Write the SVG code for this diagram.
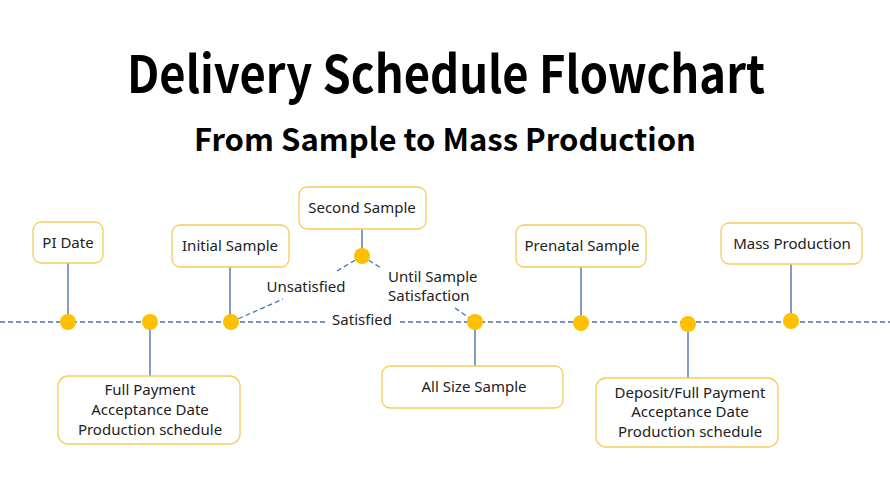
<svg xmlns="http://www.w3.org/2000/svg" width="890" height="500" viewBox="0 0 890 500">
<style>
.box{fill:#ffffff;stroke:#F5CB5C;stroke-width:1.3}
.lbl{font-family:"Noto Sans","Liberation Sans",sans-serif;font-size:15px;fill:#222;text-anchor:middle}
.start{text-anchor:start}
.stem{stroke:#5B7DB8;stroke-width:1.5;fill:none}
.dash{stroke:#4A70B0;stroke-width:1.3;stroke-dasharray:5 3;fill:none}
.dot{fill:#FFC000}
.title{font-family:"Noto Sans CJK SC","Noto Sans",sans-serif;font-weight:bold;fill:#000;text-anchor:middle}
</style>
<rect width="890" height="500" fill="#ffffff"/>
<text class="title" x="446" y="93" font-size="51" textLength="638" lengthAdjust="spacingAndGlyphs">Delivery Schedule Flowchart</text>
<text class="title" x="445" y="151" font-size="31" textLength="502" lengthAdjust="spacingAndGlyphs">From Sample to Mass Production</text>
<g id="connectors">
<path class="dash" d="M0 322 H325 M400 322 H890"/>
<path class="dash" d="M231 322 L283 299 M337 271 L362 256"/>
<path class="dash" d="M362 256 L381 268 M455 308 L475 322"/>
<path class="stem" d="M68 263 V322 M150 322 V376 M230 267 V322 M362 229 V256 M475 322 V366 M581 267 V322 M688 324 V378 M791 264 V322"/>
<text class="lbl" x="306" y="292">Unsatisfied</text>
<text class="lbl start" x="388" y="282">Until Sample</text>
<text class="lbl start" x="388" y="301">Satisfaction</text>
<text class="lbl" x="362" y="325">Satisfied</text>
</g>
<g id="dots">
<circle class="dot" cx="68" cy="322" r="8"/>
<circle class="dot" cx="150" cy="322" r="8"/>
<circle class="dot" cx="231" cy="322" r="8"/>
<circle class="dot" cx="362" cy="256" r="8"/>
<circle class="dot" cx="475" cy="322" r="8"/>
<circle class="dot" cx="581" cy="323" r="8"/>
<circle class="dot" cx="688" cy="324" r="8"/>
<circle class="dot" cx="791" cy="321" r="8"/>
</g>
<g id="pi-date"><rect class="box" x="33" y="222" width="70" height="41" rx="8"/><text class="lbl" x="68" y="248">PI Date</text></g>
<g id="initial-sample"><rect class="box" x="172" y="225" width="117" height="42" rx="8"/><text class="lbl" x="230" y="251">Initial Sample</text></g>
<g id="second-sample"><rect class="box" x="299" y="187" width="127" height="42" rx="8"/><text class="lbl" x="362" y="213">Second Sample</text></g>
<g id="prenatal-sample"><rect class="box" x="516" y="225" width="130" height="42" rx="8"/><text class="lbl" x="582" y="251">Prenatal Sample</text></g>
<g id="mass-production"><rect class="box" x="721" y="223" width="141" height="41" rx="8"/><text class="lbl" x="792" y="249">Mass Production</text></g>
<g id="full-payment"><rect class="box" x="58" y="376" width="182" height="68" rx="10"/>
<text class="lbl" x="150" y="395">Full Payment</text><text class="lbl" x="150" y="415">Acceptance Date</text><text class="lbl" x="150" y="435">Production schedule</text></g>
<g id="all-size-sample"><rect class="box" x="382" y="366" width="181" height="42" rx="8"/><text class="lbl" x="474" y="392">All Size Sample</text></g>
<g id="deposit"><rect class="box" x="596" y="378" width="182" height="69" rx="10"/>
<text class="lbl" x="690" y="398">Deposit/Full Payment</text><text class="lbl" x="690" y="417">Acceptance Date</text><text class="lbl" x="690" y="437">Production schedule</text></g>
</svg>
